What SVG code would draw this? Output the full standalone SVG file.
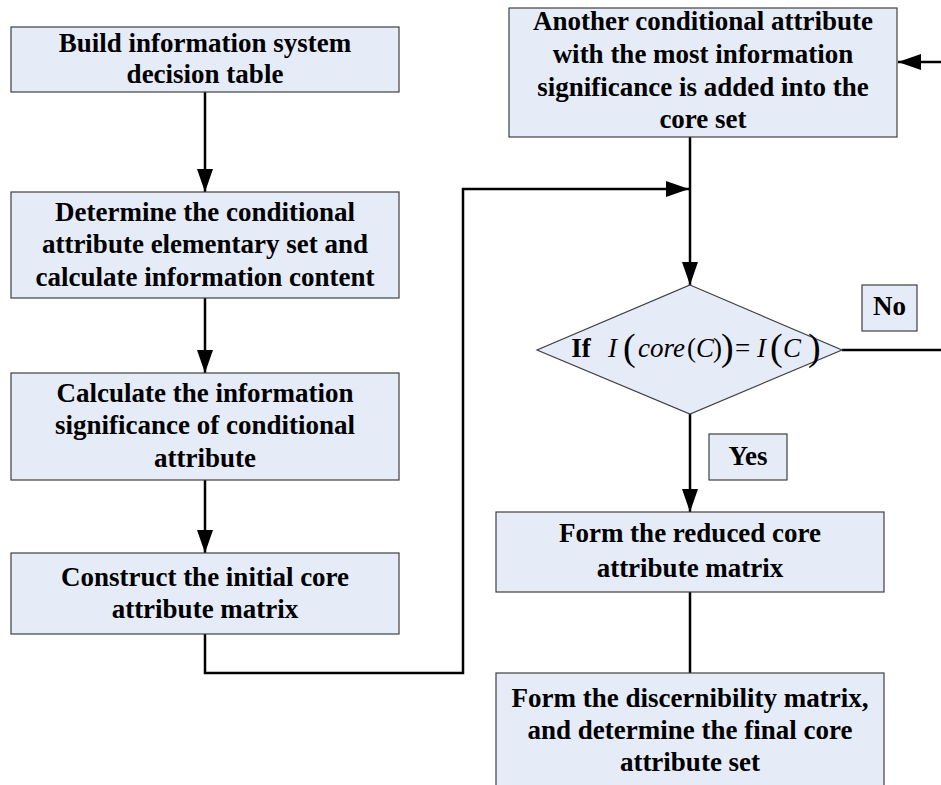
<svg xmlns="http://www.w3.org/2000/svg" width="941" height="785" viewBox="0 0 941 785">
<style>
.box{fill:#e6ecf7;stroke:#404040;stroke-width:1.2}
.t{font-family:'Liberation Serif','Times New Roman',serif;font-weight:700;font-size:27px;text-anchor:middle;fill:#000}
.m{font-family:'Liberation Serif','Times New Roman',serif;font-style:italic;font-size:27px;fill:#000}
.mp{font-family:'Liberation Serif','Times New Roman',serif;font-size:27px;fill:#000}
.bp{font-family:'Liberation Serif','Times New Roman',serif;font-size:38px;fill:#000}
.c{fill:none;stroke:#000;stroke-width:2.5}
</style>
<defs>
<marker id="a" viewBox="0 0 23 16" refX="23" refY="8" markerWidth="23" markerHeight="16" markerUnits="userSpaceOnUse" orient="auto">
<path d="M0,0 L23,8 L0,16 z" fill="#000"/>
</marker>
</defs>
<rect width="941" height="785" fill="#fff"/>
<g id="connectors">
<line class="c" x1="205" y1="92" x2="205" y2="192" marker-end="url(#a)"/>
<line class="c" x1="205" y1="298" x2="205" y2="373" marker-end="url(#a)"/>
<line class="c" x1="205" y1="480" x2="205" y2="553" marker-end="url(#a)"/>
<polyline class="c" points="205,634 205,673 463,673 463,189 689,189" marker-end="url(#a)"/>
<line class="c" x1="690" y1="137" x2="690" y2="285" marker-end="url(#a)"/>
<line class="c" x1="690" y1="414" x2="690" y2="512" marker-end="url(#a)"/>
<line class="c" x1="690" y1="592" x2="690" y2="673"/>
<polyline class="c" points="842,350 941,350"/>
<line class="c" x1="941" y1="62" x2="898" y2="62" marker-end="url(#a)"/>
</g>
<g id="n1"><rect class="box" x="11" y="27" width="388" height="65"/>
<text class="t" x="205" y="52">Build information system</text>
<text class="t" x="205" y="83">decision table</text></g>
<g id="n2"><rect class="box" x="11" y="192" width="388" height="106"/>
<text class="t" x="205" y="221">Determine the conditional</text>
<text class="t" x="205" y="253">attribute elementary set and</text>
<text class="t" x="205" y="286">calculate information content</text></g>
<g id="n3"><rect class="box" x="11" y="373" width="388" height="107"/>
<text class="t" x="205" y="402">Calculate the information</text>
<text class="t" x="205" y="434">significance of conditional</text>
<text class="t" x="205" y="467">attribute</text></g>
<g id="n4"><rect class="box" x="11" y="553" width="388" height="81"/>
<text class="t" x="205" y="586">Construct the initial core</text>
<text class="t" x="205" y="618">attribute matrix</text></g>
<g id="n5"><rect class="box" x="509" y="8" width="388" height="129"/>
<text class="t" x="703" y="30">Another conditional attribute</text>
<text class="t" x="703" y="63">with the most information</text>
<text class="t" x="703" y="96">significance is added into the</text>
<text class="t" x="703" y="128">core set</text></g>
<g id="n6"><polygon class="box" points="690,285 842,350 690,414 537,350"/>
<text class="t" x="581" y="357">If</text>
<text class="m" x="608" y="357">I</text>
<text class="bp" x="623" y="360">(</text>
<text class="m" x="638" y="357">core</text>
<text class="mp" x="687" y="357">(</text>
<text class="m" x="696" y="357">C</text>
<text class="mp" x="713" y="357">)</text>
<text class="bp" x="721" y="360">)</text>
<text class="mp" x="735" y="357">=</text>
<text class="m" x="757" y="357">I</text>
<text class="bp" x="770" y="360">(</text>
<text class="m" x="783" y="357">C</text>
<text class="bp" x="808" y="360">)</text></g>
<g id="n7"><rect class="box" x="862" y="285" width="55" height="46"/>
<text class="t" x="889.5" y="315">No</text></g>
<g id="n8"><rect class="box" x="709" y="434" width="78" height="46"/>
<text class="t" x="748" y="465">Yes</text></g>
<g id="n9"><rect class="box" x="496" y="512" width="388" height="80"/>
<text class="t" x="690" y="542">Form the reduced core</text>
<text class="t" x="690" y="577">attribute matrix</text></g>
<g id="n10"><rect class="box" x="496" y="673" width="388" height="130"/>
<text class="t" x="690" y="707">Form the discernibility matrix,</text>
<text class="t" x="690" y="739">and determine the final core</text>
<text class="t" x="690" y="771">attribute set</text></g>
</svg>
